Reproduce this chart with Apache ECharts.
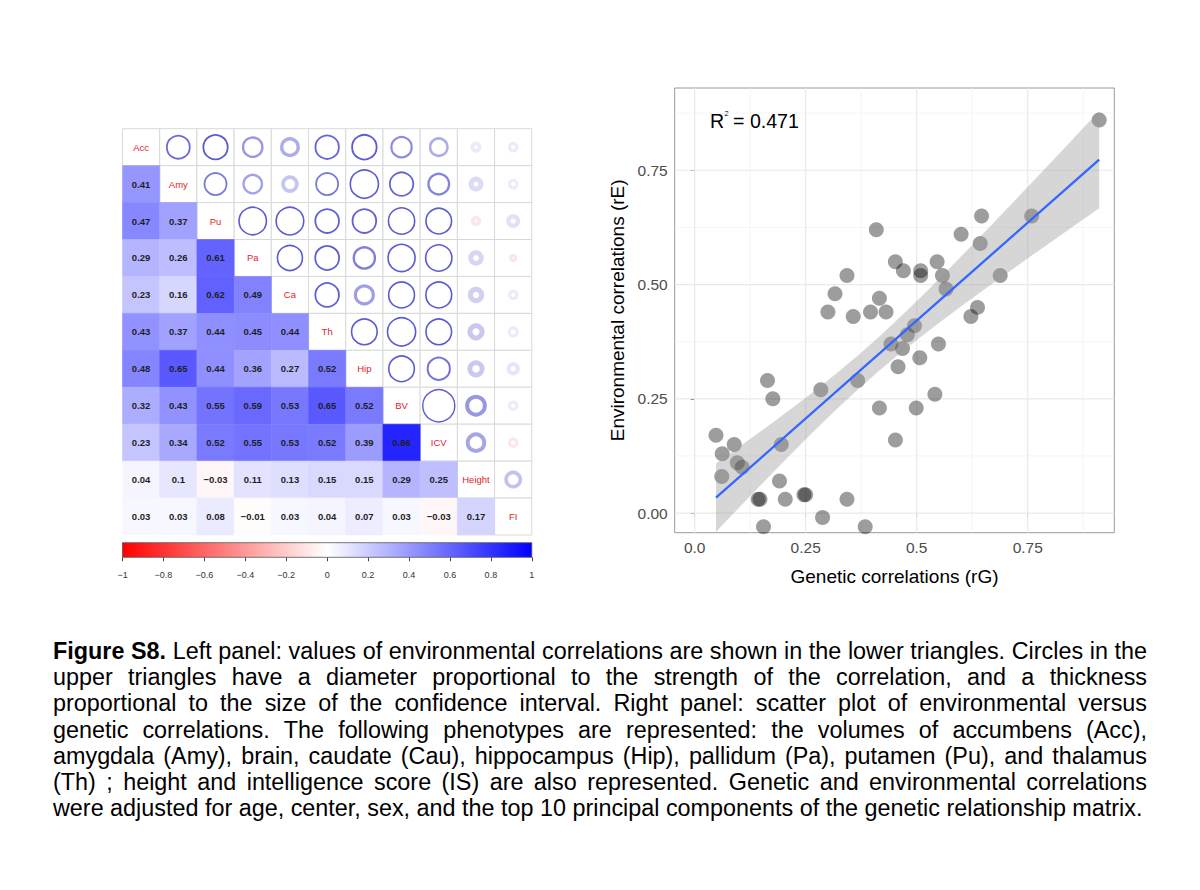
<!DOCTYPE html>
<html><head><meta charset="utf-8">
<script src="https://cdn.jsdelivr.net/npm/echarts@6/dist/echarts.min.js"></script>
<style>html,body{margin:0;padding:0;background:#fff}#c{width:1200px;height:890px}</style>
</head><body><div id="c"></div>
<script>
// ---------- data ----------
const phenotypes = ['Acc','Amy','Pu','Pa','Ca','Th','Hip','BV','ICV','Height','FI'];
// environmental correlations (lower triangle; row i holds columns 0..i-1)
const envCorrLower = [
  [],
  [0.41],
  [0.47,0.37],
  [0.29,0.26,0.61],
  [0.23,0.16,0.62,0.49],
  [0.43,0.37,0.44,0.45,0.44],
  [0.48,0.65,0.44,0.36,0.27,0.52],
  [0.32,0.43,0.55,0.59,0.53,0.65,0.52],
  [0.23,0.34,0.52,0.55,0.53,0.52,0.39,0.86],
  [0.04,0.1,-0.03,0.11,0.13,0.15,0.15,0.29,0.25],
  [0.03,0.03,0.08,-0.01,0.03,0.04,0.07,0.03,-0.03,0.17]
];
// confidence-interval sizes (upper triangle; row i holds columns i+1..10)
const ciSizeUpper = [
  [0.09,0.09,0.12,0.17,0.09,0.09,0.11,0.13,0.20,0.16],
  [0.09,0.12,0.18,0.09,0.08,0.09,0.12,0.25,0.15],
  [0.08,0.08,0.09,0.09,0.08,0.08,0.20,0.22],
  [0.08,0.09,0.12,0.08,0.08,0.24,0.25],
  [0.09,0.16,0.08,0.08,0.25,0.16],
  [0.08,0.08,0.08,0.25,0.16],
  [0.08,0.10,0.24,0.20],
  [0.07,0.20,0.16],
  [0.20,0.16],
  [0.18]
];
// scatter: genetic (x) vs environmental (y) correlations
const geneticCorr = [0.911,0.759,0.646,0.409,0.600,0.643,0.452,0.546,0.470,0.509,0.509,0.558,0.688,0.343,0.566,0.316,0.416,0.637,0.300,0.396,0.431,0.357,0.622,0.495,0.479,0.442,0.549,0.468,0.507,0.458,0.367,0.164,0.284,0.541,0.176,0.416,0.499,0.048,0.452,0.089,0.195,0.062,0.096,0.107,0.061,0.191,0.246,0.250,0.143,0.147,0.204,0.343,0.288,0.155,0.384];
const environmentalCorr = [0.86,0.65,0.65,0.62,0.61,0.59,0.55,0.55,0.53,0.53,0.52,0.52,0.52,0.52,0.49,0.48,0.47,0.45,0.44,0.44,0.44,0.43,0.43,0.41,0.39,0.37,0.37,0.36,0.34,0.32,0.29,0.29,0.27,0.26,0.25,0.23,0.23,0.17,0.16,0.15,0.15,0.13,0.11,0.10,0.08,0.07,0.04,0.04,0.03,0.03,0.03,0.03,-0.01,-0.03,-0.03];
const scatterXBreaks = [0,0.25,0.5,0.75];
const scatterXLabels = ['0.0','0.25','0.5','0.75'];
const scatterYBreaks = [0,0.25,0.5,0.75];
const scatterYLabels = ['0.00','0.25','0.50','0.75'];
const scatterMinorBreaks = [0.125,0.375,0.625,0.875];
const rSquared = '0.471';
const captionLines = [
  'Figure S8. Left panel: values of environmental correlations are shown in the lower triangles. Circles in the',
  'upper triangles have a diameter proportional to the strength of the correlation, and a thickness',
  'proportional to the size of the confidence interval. Right panel: scatter plot of environmental versus',
  'genetic correlations. The following phenotypes are represented: the volumes of accumbens (Acc),',
  'amygdala (Amy), brain, caudate (Cau), hippocampus (Hip), pallidum (Pa), putamen (Pu), and thalamus',
  '(Th) ; height and intelligence score (IS) are also represented. Genetic and environmental correlations',
  'were adjusted for age, center, sex, and the top 10 principal components of the genetic relationship matrix.'
];

// ---------- helpers ----------
const FONT = '"Liberation Sans", Arial, Helvetica, sans-serif';
function scaleColor(r){
  if (r >= 0){ const v = Math.round(255*(1-r)); return `rgb(${v},${v},255)`; }
  const v = Math.round(255*(1+r)); return `rgb(255,${v},${v})`;
}
function fmtNum(r){ return String(r).replace('-', '\u2212'); }

const whiteCells = [], colouredCells = [];
for (let i = 0; i < phenotypes.length; i++){
  for (let j = 0; j < phenotypes.length; j++){
    if (j < i) colouredCells.push([j, i, envCorrLower[i][j], 0, 0]);
    else if (j === i) whiteCells.push([j, i, 1, 0, 1]);
    else whiteCells.push([j, i, envCorrLower[j][i], ciSizeUpper[i][j-i-1], 2]);
  }
}
const matrixData = whiteCells.concat(colouredCells);

function renderCell(params, api){
  const j = api.value(0), i = api.value(1), r = api.value(2), ci = api.value(3), kind = api.value(4);
  const c = api.coord([j, i]); const s = api.size([1, 1]);
  const w = s[0], h = s[1]; const x0 = c[0]-w/2, y0 = c[1]-h/2;
  const ch = [];
  if (kind === 0){
    const col = scaleColor(r);
    ch.push({type:'rect', shape:{x:x0, y:y0, width:w, height:h}, style:{fill:col, stroke:col, lineWidth:0.6}});
    ch.push({type:'text', style:{text:fmtNum(r), x:c[0], y:c[1], align:'center', verticalAlign:'middle',
      fontSize:9.5, fontWeight:'bold', fontFamily:FONT, fill:'#1f1f1f'}});
  } else {
    ch.push({type:'rect', shape:{x:x0, y:y0, width:w, height:h}, style:{fill:'#fff', stroke:'#d9d9d9', lineWidth:1}});
    if (kind === 1){
      ch.push({type:'text', style:{text:phenotypes[i], x:c[0], y:c[1], align:'center', verticalAlign:'middle',
        fontSize:9.5, fontFamily:FONT, fill:'#e2242b'}});
    } else {
      const a = Math.abs(r);
      const thick = ci * 20;
      const outerD = w * (0.143 + 0.816 * Math.sqrt(a));
      const rad = Math.max(0.8, outerD/2 - thick/2);
      const alpha = Math.min(1, Math.max(0.12, 2.2 * a));
      const stroke = r >= 0 ? `rgba(92,92,210,${alpha})` : `rgba(222,60,70,${alpha})`;
      ch.push({type:'circle', shape:{cx:c[0], cy:c[1], r:rad}, style:{fill:'none', stroke:stroke, lineWidth:thick}});
    }
  }
  return {type:'group', children:ch};
}

function renderColorbar(params, api){
  const p0 = api.coord([-1, 1]), p1 = api.coord([1, 0]);
  return {type:'rect', shape:{x:p0[0], y:p0[1], width:p1[0]-p0[0], height:p1[1]-p0[1]},
    style:{fill:new echarts.graphic.LinearGradient(0,0,1,0,[
      {offset:0,color:'#ff0000'},{offset:0.5,color:'#ffffff'},{offset:1,color:'#0000ff'}]),
      stroke:'#555', lineWidth:0.8}};
}

// linear fit with 95% confidence band (as geom_smooth(method='lm'))
const n = geneticCorr.length;
const mx = geneticCorr.reduce((s,v)=>s+v,0)/n;
const my = environmentalCorr.reduce((s,v)=>s+v,0)/n;
let sxx = 0, sxy = 0;
for (let k = 0; k < n; k++){ sxx += (geneticCorr[k]-mx)**2; sxy += (geneticCorr[k]-mx)*(environmentalCorr[k]-my); }
const slope = sxy/sxx, icpt = my - slope*mx;
let sse = 0;
for (let k = 0; k < n; k++){ sse += (environmentalCorr[k] - icpt - slope*geneticCorr[k])**2; }
const sigma = Math.sqrt(sse/(n-2));
const tCrit = 2.006;
const xMin = Math.min(...geneticCorr), xMax = Math.max(...geneticCorr);
const bandX = [], bandLo = [], bandHi = [];
for (let k = 0; k <= 80; k++){
  const x = xMin + (xMax-xMin)*k/80;
  const se = sigma*Math.sqrt(1/n + (x-mx)**2/sxx);
  const yh = icpt + slope*x;
  bandX.push(x); bandLo.push(yh - tCrit*se); bandHi.push(yh + tCrit*se);
}
function renderBand(params, api){
  const pts = [];
  for (let k = 0; k < bandX.length; k++) pts.push(api.coord([bandX[k], bandHi[k]]));
  for (let k = bandX.length-1; k >= 0; k--) pts.push(api.coord([bandX[k], bandLo[k]]));
  return {type:'polygon', shape:{points:pts}, style:{fill:'rgba(153,153,153,0.4)'}};
}
function renderGridLines(params, api){
  const cs = params.coordSys; const ch = [];
  const vline = (v, col, lw) => { const p = api.coord([v, 0]); ch.push({type:'line', shape:{x1:p[0], y1:cs.y, x2:p[0], y2:cs.y+cs.height}, style:{stroke:col, lineWidth:lw}}); };
  const hline = (v, col, lw) => { const p = api.coord([0, v]); ch.push({type:'line', shape:{x1:cs.x, y1:p[1], x2:cs.x+cs.width, y2:p[1]}, style:{stroke:col, lineWidth:lw}}); };
  scatterMinorBreaks.forEach(v => { vline(v,'#f3f3f3',0.8); hline(v,'#f3f3f3',0.8); });
  scatterXBreaks.forEach(v => vline(v,'#e9e9e9',1.2));
  scatterYBreaks.forEach(v => hline(v,'#e9e9e9',1.2));
  return {type:'group', children:ch};
}

// justified caption (font size chosen so the last, unjustified line spans the measured width)
function buildCaption(){
  const ctx = document.createElement('canvas').getContext('2d');
  const left = 53, right = 1147, lineH = 26.2, yFirst = 651;
  ctx.font = '20px ' + FONT;
  const lastW = ctx.measureText(captionLines[captionLines.length-1]).width;
  const size = 20 * 1090 / lastW;
  const els = [];
  captionLines.forEach((line, li) => {
    const words = line.split(' ');
    const items = words.map((w, wi) => {
      const bold = li === 0 && wi < 2;
      ctx.font = (bold ? 'bold ' : '') + size + 'px ' + FONT;
      return {w, bold, width: ctx.measureText(w).width};
    });
    ctx.font = size + 'px ' + FONT;
    const sp = ctx.measureText(' ').width;
    const total = items.reduce((s, it) => s + it.width, 0);
    const isLast = li === captionLines.length - 1;
    const gap = isLast ? sp : (right - left - total) / (items.length - 1);
    let x = left;
    items.forEach(it => {
      els.push({type:'text', x:x, y:yFirst + li*lineH, silent:true,
        style:{text:it.w, fontSize:size, fontWeight:it.bold ? 'bold' : 'normal', fontFamily:FONT, fill:'#000', verticalAlign:'middle'}});
      x += it.width + gap;
    });
  });
  return els;
}

const chart = echarts.init(document.getElementById('c'), null, {renderer:'svg'});
const captionEls = buildCaption();
const option = {
  backgroundColor:'#fff',
  animation:false,
  grid:[
    {left:122.5, top:128.7, width:409.3, height:406.3},
    {left:122.5, top:542.7, width:409.3, height:14.6},
    {left:674.7, top:88, width:439.6, height:444.7, show:true, borderColor:'#9a9a9a', borderWidth:1, backgroundColor:'#fff'}
  ],
  xAxis:[
    {type:'category', gridIndex:0, data:phenotypes, show:false},
    {type:'value', gridIndex:1, min:-1, max:1, interval:0.2, splitLine:{show:false}, axisLine:{show:false},
      axisTick:{show:true, length:4, lineStyle:{color:'#444', width:1}},
      axisLabel:{fontSize:9, color:'#333', margin:13, fontFamily:FONT, formatter:v => fmtNum(+(+v).toFixed(1))}},
    {type:'value', gridIndex:2, min:-0.045, max:0.945, splitLine:{show:false}, axisLine:{show:false},
      axisTick:{show:true, length:4, customValues:scatterXBreaks, lineStyle:{color:'#333'}},
      axisLabel:{customValues:scatterXBreaks, fontSize:15.5, color:'#4d4d4d', margin:7, fontFamily:FONT,
        formatter:v => scatterXLabels[scatterXBreaks.indexOf(+(+v).toFixed(2))]},
      name:'Genetic correlations (rG)', nameLocation:'middle', nameGap:34,
      nameTextStyle:{fontSize:19, color:'#000', fontFamily:FONT}}
  ],
  yAxis:[
    {type:'category', gridIndex:0, data:phenotypes, inverse:true, show:false},
    {type:'value', gridIndex:1, min:0, max:1, show:false},
    {type:'value', gridIndex:2, min:-0.043, max:0.93, splitLine:{show:false}, axisLine:{show:false},
      axisTick:{show:true, length:4, customValues:scatterYBreaks, lineStyle:{color:'#333'}},
      axisLabel:{customValues:scatterYBreaks, fontSize:15.5, color:'#4d4d4d', margin:7, fontFamily:FONT,
        formatter:v => scatterYLabels[scatterYBreaks.indexOf(+(+v).toFixed(2))]},
      name:'Environmental correlations (rE)', nameLocation:'middle', nameGap:48,
      nameTextStyle:{fontSize:19, color:'#000', fontFamily:FONT}}
  ],
  series:[
    {type:'custom', name:'matrix', xAxisIndex:0, yAxisIndex:0, renderItem:renderCell, data:matrixData, silent:true},
    {type:'custom', name:'colorbar', xAxisIndex:1, yAxisIndex:1, renderItem:renderColorbar, data:[[-1,0]], silent:true},
    {type:'custom', name:'gridlines', xAxisIndex:2, yAxisIndex:2, renderItem:renderGridLines, data:[[0,0]], silent:true, z:1},
    {type:'scatter', name:'pairs', xAxisIndex:2, yAxisIndex:2, symbolSize:15, z:2,
      data:geneticCorr.map((x,k)=>[x, environmentalCorr[k]]),
      itemStyle:{color:'rgba(0,0,0,0.48)'}},
    {type:'custom', name:'band', xAxisIndex:2, yAxisIndex:2, renderItem:renderBand, data:[[0,0]], silent:true, z:3},
    {type:'line', name:'fit', xAxisIndex:2, yAxisIndex:2, z:4, showSymbol:false, silent:true,
      data:[[xMin, icpt+slope*xMin],[xMax, icpt+slope*xMax]],
      lineStyle:{color:'#3366FF', width:2.3}}
  ],
  graphic:[
    {type:'text', x:710, y:121.4, silent:true, style:{text:'R', fontSize:19.6, fontFamily:FONT, fill:'#000', verticalAlign:'middle'}},
    {type:'text', x:724.6, y:113.5, silent:true, style:{text:'2', fontSize:7.5, fontFamily:FONT, fill:'#000', verticalAlign:'middle'}},
    {type:'text', x:733, y:121.4, silent:true, style:{text:'= ' + rSquared, fontSize:19.6, fontFamily:FONT, fill:'#000', verticalAlign:'middle'}}
  ].concat(captionEls)
};
chart.setOption(option);
</script></body></html>
